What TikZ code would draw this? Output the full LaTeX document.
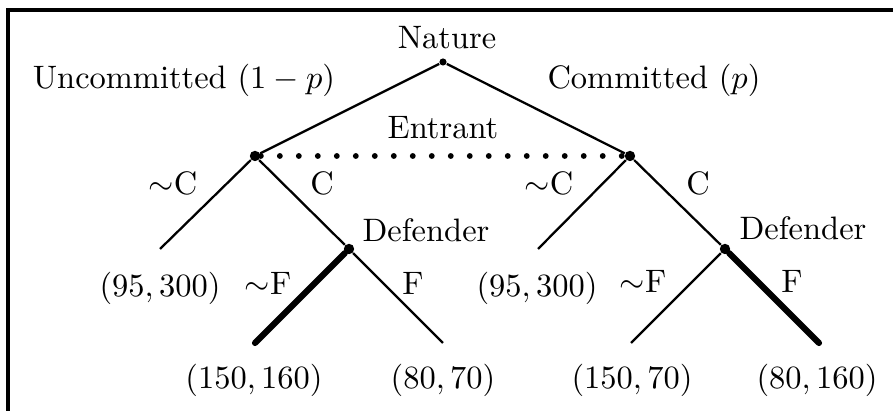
\documentclass[tikz,border=0pt]{standalone}
\usepackage{amsmath}
\usetikzlibrary{positioning}
\begin{document}
\begin{tikzpicture}[x=0.308pt,y=-0.308pt,
  dec/.style={circle, fill, inner sep=0pt, minimum size=3.2pt},
  br/.style={line width=0.7pt},
  eqm/.style={line width=1.9pt, line cap=round},
  info/.style={line width=1.8pt, line cap=round, dash pattern=on 0pt off 5.85pt},
  lab/.style={inner sep=1pt},
]
\useasboundingbox (0,0) rectangle (893,411);
\draw[line width=1.1pt] (893,10) -- (8,10) -- (8,411);
\node[dec, minimum size=2.2pt] (N) at (443,62) {};
\node[dec] (EU) at (255,156) {};
\node[dec] (EC) at (630,156) {};
\node[dec] (DU) at (349,249) {};
\node[dec] (DC) at (725,249) {};
\coordinate (XU) at (160,249);
\coordinate (XC) at (538,249);
\coordinate (AU) at (255,343);
\coordinate (BU) at (443,343);
\coordinate (AC) at (631,343);
\coordinate (BC) at (819,343);
\draw[br] (N)--(EU); \draw[br] (N)--(EC);
\draw[info] (EU)--(EC);
\draw[br] (EU)--(XU); \draw[br] (EU)--(DU);
\draw[br] (EC)--(XC); \draw[br] (EC)--(DC);
\draw[eqm] (DU)--(AU); \draw[br] (DU)--(BU);
\draw[br] (DC)--(AC); \draw[eqm] (DC)--(BC);
\node[lab] (nat) at (447,38) {Nature};
\node[lab] (unc) at (184,80) {Uncommitted $(1-p)$};
\node[lab] (com) at (654,80) {Committed $(p)$};
\node[lab] (ent) at (443,128) {Entrant};
\node[lab] (nCU) at (173,183) {$\sim$C};
\node[lab] (CU) at (322,183) {C};
\node[lab] (nCC) at (549,183) {$\sim$C};
\node[lab] (CC) at (698,183) {C};
\node[lab] (defU) at (426,230) {Defender};
\node[lab] (defC) at (803,228) {Defender};
\node[lab] (nFU) at (268,283) {$\sim$F};
\node[lab] (FU) at (413,283) {F};
\node[lab] (nFC) at (643,281) {$\sim$F};
\node[lab] (FC) at (792,281) {F};
\node[lab] (pXU) at (160,288) {$(95,300)$};
\node[lab] (pXC) at (537,288) {$(95,300)$};
\node[lab] (pAU) at (254,380) {$(150,160)$};
\node[lab] (pBU) at (443,380) {$(80,70)$};
\node[lab] (pAC) at (632,380) {$(150,70)$};
\node[lab] (pBC) at (817,380) {$(80,160)$};
\end{tikzpicture}
\end{document}
